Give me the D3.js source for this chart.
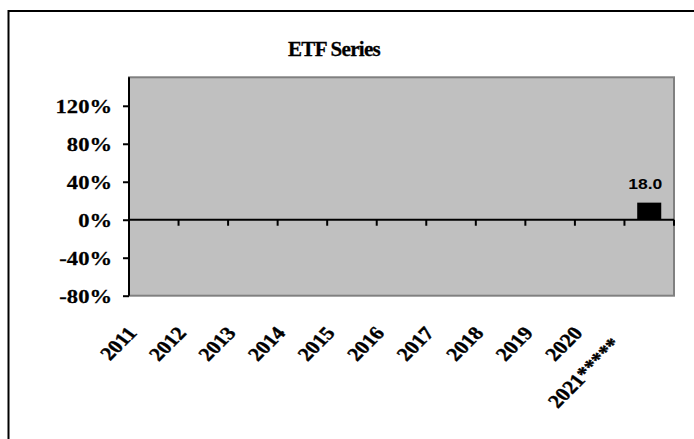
<!DOCTYPE html>
<html>
<head>
<meta charset="utf-8">
<script src="https://cdn.jsdelivr.net/npm/d3@7"></script>
<style>
  html, body { margin: 0; padding: 0; background: #fff; }
  svg { display: block; }
</style>
</head>
<body>
<svg id="chart" width="694" height="439"></svg>
<script>
// ---- data ----
const categories = ["2011", "2012", "2013", "2014", "2015", "2016", "2017", "2018", "2019", "2020", "2021*****"];
const values = [null, null, null, null, null, null, null, null, null, null, 18.0];
const yTicks = [-80, -40, 0, 40, 80, 120];
const yDomain = [-80, 150];
const title = "ETF Series";

// ---- layout ----
const svg = d3.select("#chart");
const plot = { left: 129, right: 674, top: 77.3, bottom: 295.7 };
const serif = "'Liberation Serif', 'Times New Roman', serif";
const sans = "'Liberation Sans', Arial, sans-serif";
const stretch = 1.17;

// outer chart border (runs off the right and bottom edges)
svg.append("rect")
  .attr("x", 8.5).attr("y", 11).attr("width", 800).attr("height", 600)
  .attr("fill", "#fff").attr("stroke", "#000").attr("stroke-width", 2);

const x = d3.scaleBand().domain(categories).range([plot.left, plot.right]).padding(0);
const y = d3.scaleLinear().domain(yDomain).range([plot.bottom, plot.top]);

// plot area
svg.append("rect")
  .attr("x", plot.left).attr("y", plot.top)
  .attr("width", plot.right - plot.left).attr("height", plot.bottom - plot.top)
  .attr("fill", "#c0c0c0").attr("stroke", "#808080").attr("stroke-width", 2);

// title
svg.append("text")
  .attr("transform", `translate(334,55.5)`)
  .attr("text-anchor", "middle")
  .attr("font-family", serif).attr("font-weight", "bold").attr("font-size", 21)
  .attr("letter-spacing", -0.7)
  .attr("stroke", "#000").attr("stroke-width", 0.3)
  .text(title);

// bars
const data = categories.map((c, i) => ({ c, v: values[i] })).filter(d => d.v != null);
const barW = x.bandwidth() * 0.485;
svg.append("g").selectAll("rect").data(data).join("rect")
  .attr("x", d => x(d.c) + x.bandwidth() / 2 - barW / 2)
  .attr("y", d => y(Math.max(0, d.v)))
  .attr("width", barW)
  .attr("height", d => Math.abs(y(d.v) - y(0)))
  .attr("fill", "#000");

// bar value labels
svg.append("g").selectAll("text").data(data).join("text")
  .attr("transform", d => `translate(${x(d.c) + x.bandwidth() / 2 - 4},${y(Math.max(0, d.v)) - 13.5}) scale(${stretch},1)`)
  .attr("text-anchor", "middle")
  .attr("font-family", sans).attr("font-weight", "bold").attr("font-size", 15)
  .text(d => d3.format(".1f")(d.v));

// y axis
const yAxis = d3.axisLeft(y).tickValues(yTicks).tickSize(6).tickPadding(0).tickFormat(d => d + "%");
const gy = svg.append("g").attr("transform", `translate(${plot.left},0)`).call(yAxis);
gy.select(".domain").attr("stroke", "#000").attr("stroke-width", 2)
  .attr("d", `M0,${plot.top}V${plot.bottom}`);
gy.selectAll(".tick line").attr("stroke", "#000").attr("stroke-width", 2);
gy.selectAll(".tick text").remove();
gy.selectAll(".tick").append("text")
  .attr("transform", `translate(-17,6.5) scale(${stretch},1)`)
  .attr("text-anchor", "end")
  .attr("fill", "#000")
  .attr("stroke", "#000").attr("stroke-width", 0.25)
  .attr("font-family", serif).attr("font-weight", "bold").attr("font-size", 19.3)
  .text(d => d + "%");

// x axis along zero line, ticks at band boundaries
const gx = svg.append("g").attr("transform", `translate(0,${y(0)})`);
gx.append("line").attr("x1", plot.left).attr("x2", plot.right)
  .attr("stroke", "#000").attr("stroke-width", 2);
const bounds = categories.map(c => x(c) + x.bandwidth());
gx.selectAll("line.tk").data(bounds).join("line").attr("class", "tk")
  .attr("x1", d => d).attr("x2", d => d).attr("y1", 0).attr("y2", 6)
  .attr("stroke", "#000").attr("stroke-width", 2);

// rotated category labels (rotated, then stretched horizontally like the source)
const labels = svg.append("g").selectAll("text").data(categories).join("text")
  .attr("text-anchor", "end")
  .attr("font-family", serif).attr("font-weight", "bold").attr("font-size", 18.8)
  .attr("fill", "#000")
  .attr("stroke", "#000").attr("stroke-width", 0.4)
  .text(d => d);
labels.each(function(d) {
  const L = this.getComputedTextLength();
  const extra = Math.max(0, L - 37.6) * 0.34;
  const ax = x(d) + x.bandwidth() / 2 - 16 - extra * 0.707;
  const ay = 333.5 + extra * 0.707;
  d3.select(this).attr("transform", `translate(${ax},${ay}) scale(${stretch},1) rotate(-49.5)`);
});
</script>
</body>
</html>
